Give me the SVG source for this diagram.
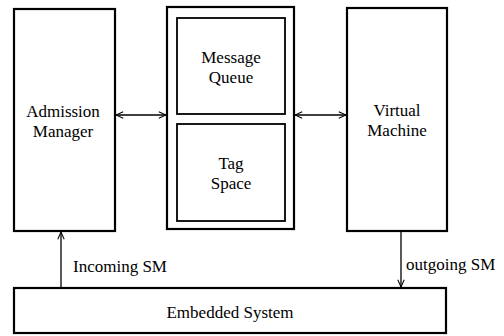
<svg xmlns="http://www.w3.org/2000/svg" width="504" height="336" viewBox="0 0 504 336">
<defs>
<style>
.box{fill:none;stroke:#000;stroke-width:2.2}
.inner{fill:none;stroke:#000;stroke-width:1.8}
.conn{fill:none;stroke:#000;stroke-width:1.3}
.t{font-family:"Times New Roman",Times,"Liberation Serif",Tinos,"Noto Serif","DejaVu Serif",serif;font-size:17px;fill:#000}
.c{text-anchor:middle}
</style>
<marker id="ah" viewBox="0 0 10 10" refX="10" refY="5" markerWidth="8" markerHeight="8" markerUnits="userSpaceOnUse" orient="auto-start-reverse">
<path d="M1,1 L10,5 L1,9" fill="none" stroke="#000" stroke-width="1.3"/>
</marker>
</defs>
<rect width="504" height="336" fill="#fff"/>
<g id="admission-manager">
<rect class="box" x="14" y="9" width="101" height="222"/>
<text class="t c" x="63" y="117">Admission</text>
<text class="t c" x="63" y="137">Manager</text>
</g>
<g id="middle">
<rect class="box" x="167" y="7" width="127" height="222"/>
<g id="message-queue">
<rect class="inner" x="177" y="18" width="108" height="96"/>
<text class="t c" x="231" y="63">Message</text>
<text class="t c" x="231" y="83">Queue</text>
</g>
<g id="tag-space">
<rect class="inner" x="177" y="124" width="108" height="97"/>
<text class="t c" x="231" y="169">Tag</text>
<text class="t c" x="231" y="189">Space</text>
</g>
</g>
<g id="virtual-machine">
<rect class="box" x="347" y="8" width="100" height="223"/>
<text class="t c" x="397" y="116">Virtual</text>
<text class="t c" x="397" y="136">Machine</text>
</g>
<g id="embedded-system">
<rect class="box" x="14" y="288" width="432" height="45"/>
<text class="t c" x="230" y="318">Embedded System</text>
</g>
<g id="connectors">
<line class="conn" x1="116" y1="115" x2="166" y2="115" marker-start="url(#ah)" marker-end="url(#ah)"/>
<line class="conn" x1="295" y1="115" x2="346" y2="115" marker-start="url(#ah)" marker-end="url(#ah)"/>
<line class="conn" x1="61" y1="287" x2="61" y2="232" marker-end="url(#ah)"/>
<line class="conn" x1="401" y1="232" x2="401" y2="287" marker-end="url(#ah)"/>
<text class="t" x="73" y="272">Incoming SM</text>
<text class="t" x="406" y="270">outgoing SM</text>
</g>
</svg>
